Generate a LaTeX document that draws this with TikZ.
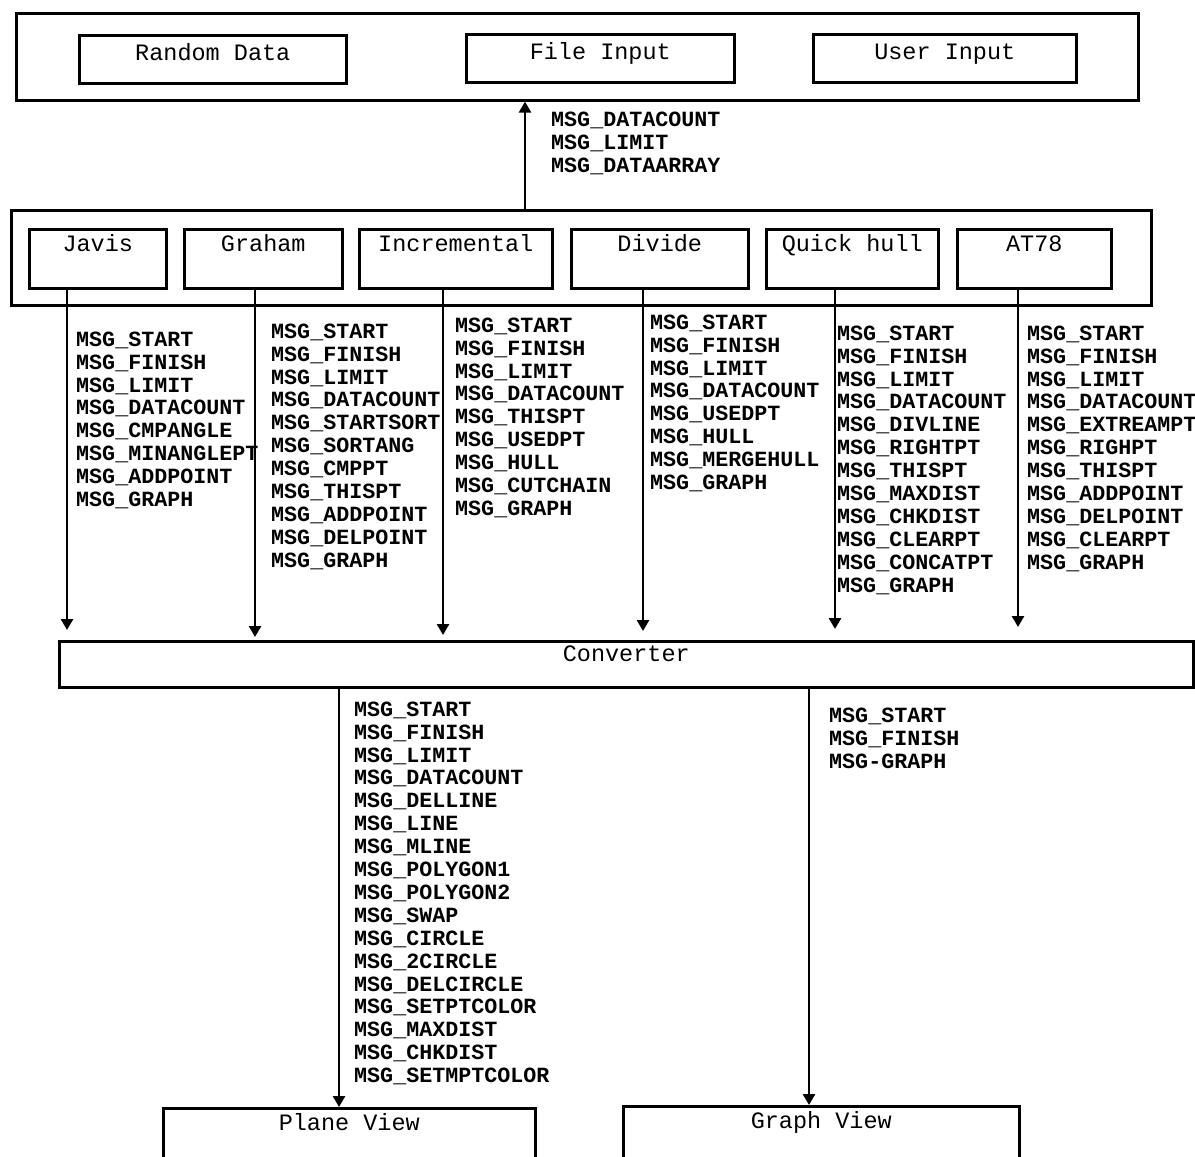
\documentclass[tikz,border=0pt]{standalone}
\usepackage{fontspec}
\setmonofont{Liberation Mono}
\usetikzlibrary{arrows.meta}

\begin{document}
\begin{tikzpicture}[
    x=1pt, y=-1pt,
    frm/.style={draw, line width=2.6pt, anchor=north west, inner sep=0pt},
    box/.style={draw, line width=2.6pt, anchor=north west, inner xsep=0pt, inner ysep=0pt,
      font=\ttfamily\fontsize{23.5}{25}\selectfont},
    srcbox/.style={box, text height=25pt, text depth=23pt},
    algbox/.style={box, text height=22pt, text depth=37pt},
    viewbox/.style={box, text height=22pt, text depth=70pt},
    msg/.style={anchor=north west, inner sep=0pt, align=left,
      font=\ttfamily\bfseries\fontsize{21.7}{22.9}\selectfont},
    arr/.style={-{Triangle[length=11pt,width=12pt]}, line width=2.6pt},
  ]
  \clip (0,0) rectangle (1195,1157);
  \fill[white] (0,0) rectangle (1195,1157);

  \node[frm, minimum width=1122pt, minimum height=87pt] (inframe) at (15,12) {};
  \node[srcbox, minimum width=267pt] (random) at (78,34) {Random Data};
  \node[srcbox, minimum width=268pt] (file) at (465,33) {File Input};
  \node[srcbox, minimum width=263pt] (user) at (812,33) {User Input};

  \node[frm, minimum width=1140pt, minimum height=95pt] (algframe) at (10,209) {};
  \node[algbox, minimum width=137pt] (javis) at (28,228) {Javis};
  \node[algbox, minimum width=158pt] (graham) at (183,228) {Graham};
  \node[algbox, minimum width=193pt] (incr) at (358,228) {Incremental};
  \node[algbox, minimum width=177pt] (divide) at (570,228) {Divide};
  \node[algbox, minimum width=172pt] (quick) at (765,228) {Quick hull};
  \node[algbox, minimum width=154pt] (at78) at (956,228) {AT78};

  \node[box, minimum width=1134pt, text height=20.5pt, text depth=25.5pt] (conv) at (58,640) {Converter};

  \node[viewbox, minimum width=372pt] (plane) at (162,1107) {Plane View};
  \node[viewbox, minimum width=396pt] (graph) at (622,1105) {Graph View};

  \draw[arr] (algframe.north -| 525,0) -- (inframe.south -| 525,0);
  \foreach \b/\x/\s in {javis/67/10, graham/255/3, incr/443/5, divide/643/9, quick/835/11, at78/1018/13}
    \draw[arr, shorten >=\s pt] (\b.south -| \x,0) -- (conv.north -| \x,0);
  \draw[arr] (conv.south -| 339,0) -- (plane.north -| 339,0);
  \draw[arr] (conv.south -| 809,0) -- (graph.north -| 809,0);

  \node[msg] (msgin) at (551,111.5) {MSG\_DATACOUNT\\MSG\_LIMIT\\MSG\_DATAARRAY};
  \node[msg] (msgjavis) at (76,331.5) {MSG\_START\\MSG\_FINISH\\MSG\_LIMIT\\MSG\_DATACOUNT\\
    MSG\_CMPANGLE\\MSG\_MINANGLEPT\\MSG\_ADDPOINT\\MSG\_GRAPH};
  \node[msg] (msggraham) at (271,323.5) {MSG\_START\\MSG\_FINISH\\MSG\_LIMIT\\MSG\_DATACOUNT\\
    MSG\_STARTSORT\\MSG\_SORTANG\\MSG\_CMPPT\\MSG\_THISPT\\MSG\_ADDPOINT\\MSG\_DELPOINT\\MSG\_GRAPH};
  \node[msg] (msgincr) at (455,317.5) {MSG\_START\\MSG\_FINISH\\MSG\_LIMIT\\MSG\_DATACOUNT\\
    MSG\_THISPT\\MSG\_USEDPT\\MSG\_HULL\\MSG\_CUTCHAIN\\MSG\_GRAPH};
  \node[msg] (msgdivide) at (650,314.5) {MSG\_START\\MSG\_FINISH\\MSG\_LIMIT\\MSG\_DATACOUNT\\
    MSG\_USEDPT\\MSG\_HULL\\MSG\_MERGEHULL\\MSG\_GRAPH};
  \node[msg] (msgquick) at (837,325.5) {MSG\_START\\MSG\_FINISH\\MSG\_LIMIT\\MSG\_DATACOUNT\\
    MSG\_DIVLINE\\MSG\_RIGHTPT\\MSG\_THISPT\\MSG\_MAXDIST\\MSG\_CHKDIST\\MSG\_CLEARPT\\
    MSG\_CONCATPT\\MSG\_GRAPH};
  \node[msg] (msgat78) at (1027,325.5) {MSG\_START\\MSG\_FINISH\\MSG\_LIMIT\\MSG\_DATACOUNT\\
    MSG\_EXTREAMPT\\MSG\_RIGHPT\\MSG\_THISPT\\MSG\_ADDPOINT\\MSG\_DELPOINT\\MSG\_CLEARPT\\
    MSG\_GRAPH};
  \node[msg] (msgplane) at (354,701.5) {MSG\_START\\MSG\_FINISH\\MSG\_LIMIT\\MSG\_DATACOUNT\\
    MSG\_DELLINE\\MSG\_LINE\\MSG\_MLINE\\MSG\_POLYGON1\\MSG\_POLYGON2\\MSG\_SWAP\\
    MSG\_CIRCLE\\MSG\_2CIRCLE\\MSG\_DELCIRCLE\\MSG\_SETPTCOLOR\\MSG\_MAXDIST\\
    MSG\_CHKDIST\\MSG\_SETMPTCOLOR};
  \node[msg] (msggraph) at (829,707.5) {MSG\_START\\MSG\_FINISH\\MSG-GRAPH};
\end{tikzpicture}
\end{document}
